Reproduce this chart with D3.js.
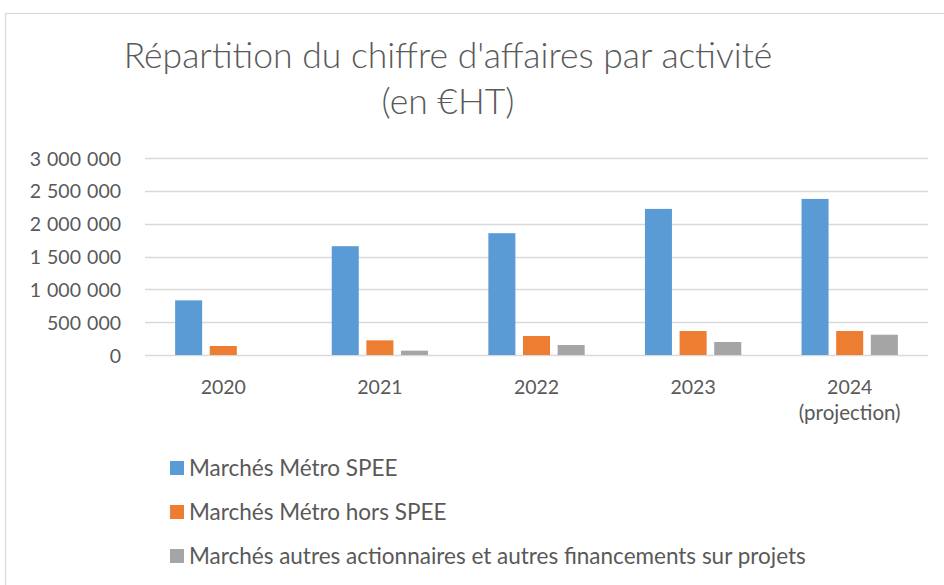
<!DOCTYPE html>
<html>
<head>
<meta charset="utf-8">
<script src="https://cdn.jsdelivr.net/npm/d3@7"></script>
<style>
  body { margin: 0; background: #fff; }
  svg { display: block; }
  text { font-family: Lato, "Open Sans", sans-serif; fill: #595959; }
  .title { font-weight: 300; font-size: 35.5px; }
  .axis text { font-size: 19.5px; }
  .legend text { font-size: 22.5px; }
</style>
</head>
<body>
<svg></svg>
<script>
var years = ["2020", "2021", "2022", "2023", "2024"];
var yearSub = ["", "", "", "", "(projection)"];
var seriesNames = [
  "Marchés Métro SPEE",
  "Marchés Métro hors SPEE",
  "Marchés autres actionnaires et autres financements sur projets"
];
var metroSpee = [832000, 1657000, 1855000, 2225000, 2377000];
var metroHorsSpee = [137000, 223000, 289000, 365000, 365000];
var autres = [0, 66000, 152000, 198000, 309000];
var colors = ["#5b9bd5", "#ed7d31", "#a5a5a5"];
var yTicks = [0, 500000, 1000000, 1500000, 2000000, 2500000, 3000000];

var allSeries = [metroSpee, metroHorsSpee, autres];

var margin = { top: 158, right: 16, bottom: 230, left: 145 },
    W = 944, H = 585,
    width = 928 - margin.left,
    height = 355 - margin.top;

var svg = d3.select("svg")
    .attr("width", W)
    .attr("height", H);

// chart frame
svg.append("rect")
    .attr("x", 5.5)
    .attr("y", 13.5)
    .attr("width", W + 10)
    .attr("height", H + 10)
    .style("fill", "none")
    .style("stroke", "#d9d9d9")
    .style("stroke-width", 1.2);

// title
var title = svg.append("text")
    .attr("class", "title")
    .attr("text-anchor", "middle");
title.append("tspan").attr("x", 448).attr("y", 68).text("Répartition du chiffre d'affaires par activité");
title.append("tspan").attr("x", 448).attr("y", 114).text("(en €HT)");

var g = svg.append("g")
    .attr("transform", "translate(" + margin.left + "," + margin.top + ")");

var x0 = d3.scaleBand()
    .domain(years)
    .range([0, width]);

var x1 = d3.scaleBand()
    .domain(d3.range(allSeries.length))
    .range([0, x0.bandwidth()])
    .paddingInner(0.22)
    .paddingOuter(0.87);

var y = d3.scaleLinear()
    .domain([0, 3000000])
    .range([height, 0]);

var fr = d3.formatLocale({ decimal: ",", thousands: "\u2009\u2009\u200a", grouping: [3], currency: ["", "€"] });
var fmt = fr.format(",");

// gridlines
g.append("g")
    .attr("class", "grid")
    .selectAll("line")
    .data(yTicks)
    .enter().append("line")
    .attr("x1", 0)
    .attr("x2", width)
    .attr("y1", function(d) { return Math.round(y(d)) + 0.5; })
    .attr("y2", function(d) { return Math.round(y(d)) + 0.5; })
    .style("stroke", "#d9d9d9")
    .style("stroke-width", 1.5);

// y axis labels
var yAxis = g.append("g")
    .attr("class", "axis axis--y")
    .call(d3.axisLeft(y).tickValues(yTicks).tickFormat(fmt).tickSize(0).tickPadding(24));
yAxis.select(".domain").remove();
yAxis.selectAll("text").attr("dy", "0.36em");

// x axis labels
var xAxis = g.append("g")
    .attr("class", "axis axis--x")
    .attr("transform", "translate(0," + height + ")")
    .call(d3.axisBottom(x0).tickSize(0).tickPadding(25));
xAxis.select(".domain").remove();
xAxis.selectAll(".tick text")
    .attr("dy", "0.71em")
    .each(function(d, i) {
      if (yearSub[i]) {
        d3.select(this.parentNode).append("text")
          .attr("y", 25)
          .attr("dy", "1.95em")
          .attr("text-anchor", "middle")
          .style("font-size", "20.5px")
          .text(yearSub[i]);
      }
    });

// bars
var groups = g.selectAll(".year")
    .data(years)
    .enter().append("g")
    .attr("class", "year")
    .attr("transform", function(d) { return "translate(" + x0(d) + ",0)"; });

groups.selectAll("rect")
    .data(function(d, i) {
      return allSeries.map(function(s, k) { return { k: k, v: s[i] }; });
    })
    .enter().append("rect")
    .attr("x", function(d) { return x1(d.k); })
    .attr("width", x1.bandwidth())
    .attr("y", function(d) { return y(d.v); })
    .attr("height", function(d) { return height - y(d.v); })
    .style("fill", function(d) { return colors[d.k]; })
    .style("display", function(d) { return d.v > 0 ? null : "none"; });

// legend
var legend = svg.append("g")
    .attr("class", "legend")
    .attr("transform", "translate(170,461)");

var item = legend.selectAll("g")
    .data(seriesNames)
    .enter().append("g")
    .attr("transform", function(d, i) { return "translate(0," + (i * 44) + ")"; });

item.append("rect")
    .attr("width", 14)
    .attr("height", 14)
    .style("fill", function(d, i) { return colors[i]; });

item.append("text")
    .attr("x", 19)
    .attr("y", 15)
    .text(function(d) { return d; });
</script>
</body>
</html>
